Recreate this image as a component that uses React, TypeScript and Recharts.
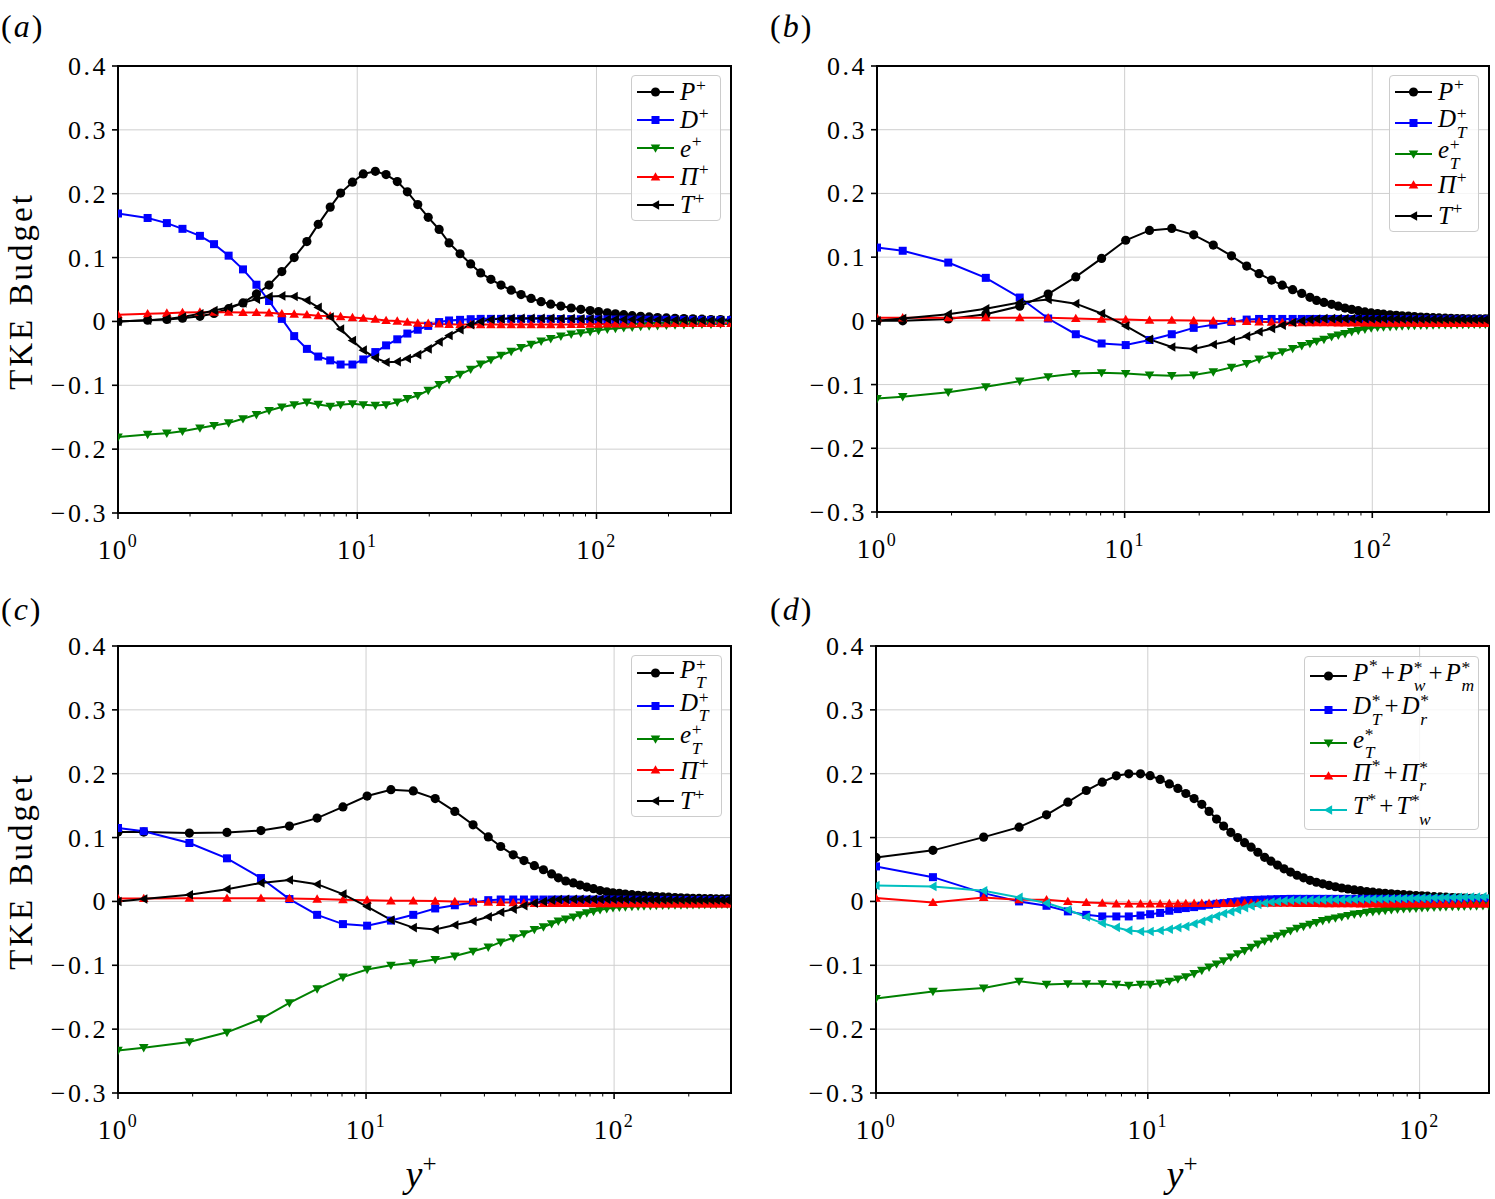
import React from 'react';
import {
  LineChart,
  Line,
  XAxis,
  YAxis,
  CartesianGrid,
  ReferenceArea,
  Legend,
} from 'recharts';

const FONT = '"Liberation Serif", "Times New Roman", serif';

const BLACK = '#000000';
const BLUE = '#0000ff';
const GREEN = '#008000';
const RED = '#ff0000';
const CYAN = '#00bfbf';

// y-axis ticks, shared by every panel
const Y_TICKS = [-0.3, -0.2, -0.1, 0, 0.1, 0.2, 0.3, 0.4];
// log x-axis ticks
const MAJOR_TICKS = [1, 10, 100];
const MINOR_TICKS = [2, 3, 4, 5, 6, 7, 8, 9, 20, 30, 40, 50, 60, 70, 80, 90, 200, 300];

// ---------- panel (a) ----------
const GRID_A = [
  1.0, 1.33, 1.6, 1.86, 2.2, 2.52, 2.9, 3.33, 3.79, 4.28,
  4.84, 5.45, 6.16, 6.87, 7.71, 8.52, 9.55, 10.6, 11.9, 13.2,
  14.7, 16.2, 17.9, 19.8, 22.0, 24.2, 26.9, 29.8, 32.8, 36.2,
  39.9, 44.0, 48.4, 53.3, 58.7, 64.4, 71.0, 78.4, 86.0, 94.1,
  102, 111, 120, 130, 141, 153, 166, 180, 196, 213,
  232, 253, 276, 301, 330, 365,
];
const P_A = [
  0.0, 0.002, 0.003, 0.005, 0.008, 0.0125, 0.02, 0.029, 0.043, 0.057,
  0.078, 0.1, 0.125, 0.152, 0.179, 0.201, 0.218, 0.231, 0.235, 0.23,
  0.219, 0.203, 0.183, 0.163, 0.144, 0.123, 0.106, 0.09, 0.076, 0.066,
  0.057, 0.049, 0.042, 0.036, 0.031, 0.027, 0.024, 0.021, 0.019, 0.017,
  0.0155, 0.0135, 0.012, 0.0105, 0.009, 0.008, 0.007, 0.006, 0.0055, 0.005,
  0.0045, 0.004, 0.0035, 0.003, 0.003, 0.0025,
];
const D_A = [
  0.169, 0.162, 0.154, 0.145, 0.134, 0.121, 0.103, 0.0815, 0.0575, 0.032,
  0.004, -0.023, -0.043, -0.055, -0.061, -0.0675, -0.0675, -0.0595, -0.048, -0.0375,
  -0.028, -0.019, -0.013, -0.007, -0.001, 0.0015, 0.0025, 0.0035, 0.004, 0.004,
  0.004, 0.004, 0.004, 0.004, 0.004, 0.004, 0.0038, 0.0037, 0.0035, 0.0034,
  0.0033, 0.0032, 0.003, 0.003, 0.0029, 0.0028, 0.0027, 0.0026, 0.0025, 0.0024,
  0.0023, 0.0022, 0.0021, 0.002, 0.002, 0.002,
];
const E_A = [
  -0.181, -0.177, -0.175, -0.172, -0.167, -0.163, -0.159, -0.1525, -0.146, -0.1395,
  -0.134, -0.1305, -0.1265, -0.13, -0.133, -0.1305, -0.129, -0.1305, -0.1315, -0.1305,
  -0.1265, -0.121, -0.116, -0.108, -0.099, -0.091, -0.083, -0.075, -0.067, -0.06,
  -0.053, -0.047, -0.041, -0.036, -0.031, -0.027, -0.023, -0.02, -0.018, -0.016,
  -0.014, -0.012, -0.011, -0.01, -0.009, -0.008, -0.007, -0.0065, -0.006, -0.0055,
  -0.005, -0.005, -0.0045, -0.0045, -0.004, -0.004,
];
const PI_A = [
  0.0105, 0.012, 0.013, 0.014, 0.0145, 0.0145, 0.0145, 0.014, 0.014, 0.0135,
  0.012, 0.0115, 0.0105, 0.009, 0.0085, 0.0075, 0.006, 0.005, 0.0035, 0.0015,
  0.0005, -0.001, -0.0025, -0.003, -0.004, -0.0045, -0.005, -0.005, -0.005, -0.005,
  -0.005, -0.005, -0.005, -0.005, -0.005, -0.005, -0.005, -0.0048, -0.0046, -0.0044,
  -0.0042, -0.004, -0.004, -0.0038, -0.0037, -0.0036, -0.0035, -0.0034, -0.0033, -0.0032,
  -0.0032, -0.0031, -0.003, -0.003, -0.003, -0.003,
];
const T_A = [
  0.0, 0.002, 0.004, 0.007, 0.012, 0.017, 0.022, 0.029, 0.035, 0.039,
  0.04, 0.039, 0.033, 0.022, 0.007, -0.012, -0.03, -0.045, -0.057, -0.064,
  -0.063, -0.058, -0.052, -0.043, -0.032, -0.022, -0.013, -0.005, 0.0, 0.003,
  0.004, 0.005, 0.005, 0.005, 0.005, 0.005, 0.0045, 0.0045, 0.004, 0.004,
  0.0035, 0.0035, 0.0033, 0.003, 0.003, 0.0028, 0.0026, 0.0025, 0.0023, 0.0022,
  0.002, 0.002, 0.0018, 0.0017, 0.0016, 0.0015,
];

// ---------- panels (b) and (c) share the same grid ----------
const GRID_B = [
  1.0, 1.27, 1.94, 2.75, 3.77, 4.91, 6.35, 8.07, 10.1, 12.6,
  15.5, 19.0, 22.8, 27.0, 31.1, 34.9, 39.2, 43.3, 47.7, 51.9,
  56.0, 59.6, 63.8, 68.5, 72.9, 77.6, 82.6, 87.8, 93.4, 99.0,
  105, 111, 118, 125, 132, 140, 148, 157, 166, 176,
  186, 197, 208, 220, 232, 245, 258, 272, 286, 296,
];
const P_B = [
  0.0, 0.0, 0.003, 0.0105, 0.023, 0.042, 0.069, 0.098, 0.1265, 0.142,
  0.145, 0.135, 0.119, 0.102, 0.086, 0.074, 0.064, 0.056, 0.049, 0.043,
  0.037, 0.032, 0.029, 0.026, 0.023, 0.02, 0.018, 0.016, 0.014, 0.0125,
  0.0115, 0.0105, 0.0095, 0.0088, 0.008, 0.0073, 0.0067, 0.006, 0.0055, 0.005,
  0.0046, 0.0042, 0.004, 0.0037, 0.0035, 0.0033, 0.0031, 0.003, 0.003, 0.003,
];
const D_B = [
  0.115, 0.11, 0.0915, 0.0675, 0.0366, 0.0037, -0.021, -0.0355, -0.038, -0.03,
  -0.021, -0.011, -0.006, -0.0016, 0.002, 0.003, 0.003, 0.003, 0.003, 0.003,
  0.003, 0.003, 0.003, 0.003, 0.003, 0.003, 0.003, 0.003, 0.003, 0.003,
  0.0028, 0.0028, 0.0027, 0.0027, 0.0026, 0.0025, 0.0025, 0.0024, 0.0024, 0.0023,
  0.0023, 0.0022, 0.0022, 0.0021, 0.0021, 0.002, 0.002, 0.002, 0.002, 0.002,
];
const E_B = [
  -0.122, -0.119, -0.112, -0.1035, -0.0946, -0.0878, -0.0826, -0.0815, -0.0826, -0.085,
  -0.086, -0.085, -0.08, -0.073, -0.067, -0.06, -0.054, -0.0486, -0.0434, -0.039,
  -0.0355, -0.032, -0.029, -0.025, -0.0225, -0.02, -0.017, -0.015, -0.013, -0.011,
  -0.01, -0.0095, -0.009, -0.0085, -0.008, -0.0077, -0.0073, -0.007, -0.0067, -0.0065,
  -0.0062, -0.006, -0.006, -0.0058, -0.0056, -0.0055, -0.0054, -0.0053, -0.0052, -0.005,
];
const PI_B = [
  0.0047, 0.0047, 0.005, 0.005, 0.005, 0.0047, 0.0037, 0.0026, 0.002, 0.001,
  0.001, 0.0005, 0.0, -0.0005, -0.001, -0.0015, -0.002, -0.0025, -0.003, -0.003,
  -0.003, -0.003, -0.003, -0.003, -0.0032, -0.0032, -0.0033, -0.0033, -0.0034, -0.0034,
  -0.0035, -0.0035, -0.0035, -0.0036, -0.0036, -0.0037, -0.0037, -0.0038, -0.0038, -0.0038,
  -0.0039, -0.0039, -0.004, -0.004, -0.004, -0.004, -0.004, -0.004, -0.004, -0.004,
];
const T_B = [
  0.0, 0.0037, 0.0105, 0.019, 0.029, 0.0335, 0.027, 0.0115, -0.008, -0.029,
  -0.041, -0.044, -0.037, -0.031, -0.024, -0.017, -0.012, -0.0068, -0.0026, 0.0,
  0.002, 0.003, 0.0035, 0.0035, 0.0035, 0.0035, 0.0035, 0.0035, 0.0035, 0.0035,
  0.0034, 0.0033, 0.0032, 0.0031, 0.003, 0.003, 0.0029, 0.0028, 0.0028, 0.0027,
  0.0026, 0.0025, 0.0025, 0.0024, 0.0023, 0.0022, 0.0022, 0.0021, 0.002, 0.002,
];
const P_C = [
  0.1086, 0.1086, 0.107, 0.108, 0.111, 0.118, 0.1305, 0.148, 0.165, 0.175,
  0.173, 0.161, 0.141, 0.12, 0.101, 0.086, 0.073, 0.064, 0.056, 0.0496,
  0.043, 0.037, 0.032, 0.029, 0.0256, 0.0225, 0.02, 0.017, 0.015, 0.0136,
  0.0125, 0.0115, 0.0105, 0.0097, 0.009, 0.0083, 0.0077, 0.0071, 0.0066, 0.0061,
  0.0057, 0.0053, 0.005, 0.0047, 0.0045, 0.0043, 0.0041, 0.004, 0.004, 0.004,
];
const E_C = [
  -0.2334, -0.229, -0.22, -0.205, -0.184, -0.159, -0.137, -0.1185, -0.1065, -0.1,
  -0.096, -0.091, -0.0856, -0.078, -0.0715, -0.0637, -0.057, -0.0506, -0.044, -0.04,
  -0.035, -0.031, -0.0277, -0.0245, -0.021, -0.018, -0.0157, -0.013, -0.0115, -0.01,
  -0.0092, -0.0085, -0.008, -0.0075, -0.007, -0.0066, -0.0063, -0.006, -0.0058, -0.0056,
  -0.0054, -0.0052, -0.005, -0.005, -0.0048, -0.0047, -0.0046, -0.0045, -0.0045, -0.0045,
];

// ---------- panel (d) ----------
const GRID_D = [
  1.0, 1.62, 2.49, 3.36, 4.24, 5.08, 5.94, 6.8, 7.66, 8.51,
  9.4, 10.2, 11.1, 12.0, 12.9, 13.8, 14.8, 15.8, 16.8, 17.9,
  19.0, 20.2, 21.4, 22.7, 24.0, 25.4, 26.9, 28.4, 30.0, 31.7,
  33.5, 35.4, 37.4, 39.5, 41.7, 44.0, 46.4, 49.0, 51.7, 54.5,
  57.5, 60.6, 63.9, 67.3, 70.9, 74.7, 78.7, 82.9, 87.3, 92.0,
  97.0, 102, 107, 113, 119, 125, 132, 139, 146, 154,
  162, 171, 180,
];
const P_D = [
  0.0689, 0.08, 0.1007, 0.1163, 0.1356, 0.1555, 0.1737, 0.1867, 0.1967, 0.1998,
  0.1998, 0.197, 0.191, 0.184, 0.177, 0.169, 0.161, 0.152, 0.141, 0.129,
  0.118, 0.108, 0.1, 0.092, 0.085, 0.077, 0.069, 0.063, 0.057, 0.051,
  0.046, 0.041, 0.037, 0.033, 0.03, 0.0276, 0.025, 0.023, 0.021, 0.0195,
  0.018, 0.0168, 0.0155, 0.0145, 0.0136, 0.0127, 0.012, 0.0112, 0.0105, 0.0099,
  0.0093, 0.0087, 0.0082, 0.0075, 0.007, 0.0066, 0.0061, 0.0057, 0.0053, 0.0049,
  0.0045, 0.0041, 0.0037,
];
const D_D = [
  0.0548, 0.038, 0.013, 0.0, -0.0068, -0.0156, -0.021, -0.0235, -0.0235, -0.0235,
  -0.022, -0.02, -0.018, -0.0146, -0.012, -0.0104, -0.0089, -0.0068, -0.0052, -0.0037,
  -0.0026, -0.001, 0.0, 0.0016, 0.0022, 0.0026, 0.003, 0.0033, 0.0036, 0.0038,
  0.004, 0.004, 0.004, 0.004, 0.004, 0.004, 0.004, 0.004, 0.004, 0.004,
  0.004, 0.004, 0.004, 0.004, 0.004, 0.004, 0.004, 0.004, 0.004, 0.004,
  0.004, 0.004, 0.004, 0.004, 0.004, 0.004, 0.004, 0.004, 0.004, 0.004,
  0.004, 0.004, 0.004,
];
const E_D = [
  -0.152, -0.141, -0.1356, -0.125, -0.13, -0.129, -0.129, -0.129, -0.13, -0.1315,
  -0.13, -0.13, -0.128, -0.125, -0.1215, -0.118, -0.113, -0.108, -0.103, -0.098,
  -0.093, -0.087, -0.082, -0.077, -0.072, -0.067, -0.062, -0.058, -0.054, -0.05,
  -0.046, -0.042, -0.039, -0.036, -0.033, -0.03, -0.028, -0.026, -0.024, -0.022,
  -0.02, -0.019, -0.017, -0.016, -0.015, -0.014, -0.013, -0.012, -0.0115, -0.011,
  -0.0105, -0.01, -0.0095, -0.009, -0.0087, -0.0083, -0.008, -0.0077, -0.0074, -0.0071,
  -0.0069, -0.0067, -0.0065,
];
const PI_D = [
  0.0052, -0.0016, 0.0063, 0.0026, 0.0026, 0.0, -0.0016, -0.0026, -0.0037, -0.0037,
  -0.0037, -0.0037, -0.0037, -0.0035, -0.0033, -0.0032, -0.003, -0.003, -0.003, -0.003,
  -0.003, -0.003, -0.0028, -0.0026, -0.0025, -0.0025, -0.0025, -0.0025, -0.0026, -0.0027,
  -0.0028, -0.003, -0.003, -0.0031, -0.0032, -0.0033, -0.0034, -0.0035, -0.0035, -0.0036,
  -0.0036, -0.0037, -0.0037, -0.0038, -0.0038, -0.0038, -0.0039, -0.0039, -0.004, -0.004,
  -0.004, -0.004, -0.004, -0.004, -0.004, -0.004, -0.004, -0.004, -0.004, -0.004,
  -0.004, -0.004, -0.004,
];
const T_D = [
  0.025, 0.0235, 0.0167, 0.0063, -0.0026, -0.013, -0.0245, -0.034, -0.0407, -0.0454,
  -0.047, -0.047, -0.0455, -0.0435, -0.041, -0.039, -0.035, -0.031, -0.027, -0.023,
  -0.019, -0.016, -0.013, -0.01, -0.007, -0.0048, -0.0025, -0.001, 0.0, 0.001,
  0.0015, 0.0018, 0.002, 0.002, 0.0022, 0.0024, 0.0025, 0.0026, 0.0028, 0.003,
  0.0031, 0.0033, 0.0035, 0.0037, 0.0039, 0.004, 0.0042, 0.0044, 0.0046, 0.0048,
  0.005, 0.0052, 0.0054, 0.0056, 0.0058, 0.006, 0.0062, 0.0064, 0.0066, 0.0068,
  0.007, 0.0071, 0.0072,
];

type Shape = 'circle' | 'square' | 'down' | 'up' | 'left';

function Marker({ shape, cx, cy, color }: { shape: Shape; cx: number; cy: number; color: string }) {
  switch (shape) {
    case 'circle':
      return <circle cx={cx} cy={cy} r={4.6} fill={color} />;
    case 'square':
      return <rect x={cx - 4} y={cy - 4} width={8} height={8} fill={color} />;
    case 'down':
      return <polygon points={`${cx - 4.8},${cy - 3.6} ${cx + 4.8},${cy - 3.6} ${cx},${cy + 4.8}`} fill={color} />;
    case 'up':
      return <polygon points={`${cx - 4.8},${cy + 3.6} ${cx + 4.8},${cy + 3.6} ${cx},${cy - 4.8}`} fill={color} />;
    default:
      return <polygon points={`${cx + 3.6},${cy - 4.8} ${cx + 3.6},${cy + 4.8} ${cx - 4.8},${cy}`} fill={color} />;
  }
}

const dotRenderer = (shape: Shape, color: string) => (props: any) => {
  const { cx, cy, index } = props;
  if (cx == null || cy == null) return <g key={`none-${index}`} />;
  return (
    <g key={`${shape}-${index}`}>
      <Marker shape={shape} cx={cx} cy={cy} color={color} />
    </g>
  );
};

// small text helpers for the math labels
const It = ({ children }: { children: React.ReactNode }) => (
  <span style={{ fontStyle: 'italic' }}>{children}</span>
);
const Sup = ({ children }: { children: React.ReactNode }) => (
  <span style={{ fontSize: '0.7em', position: 'relative', top: '-0.55em', marginLeft: '0.04em' }}>{children}</span>
);
const Stack = ({ sup, sub, shift = 0 }: { sup: string; sub: string; shift?: number }) => (
  <span
    style={{
      display: 'inline-flex',
      flexDirection: 'column',
      fontSize: '0.7em',
      lineHeight: 1.05,
      verticalAlign: '0.45em',
      marginLeft: '0.04em',
    }}
  >
    <span>{sup}</span>
    <span style={{ fontStyle: 'italic', marginLeft: `${shift}em` }}>{sub}</span>
  </span>
);
const Op = () => <span style={{ margin: '0 0.12em' }}>+</span>;

interface SeriesDef {
  key: string;
  color: string;
  shape: Shape;
  values: number[];
  label: React.ReactNode;
}

interface PanelDef {
  grid: number[];
  xMax: number;
  plot: { left: number; top: number; width: number; height: number };
  legend: { left: number; top: number; width: number; rows: number[]; padTop: number };
  series: SeriesDef[];
}

const Y_W = 70;
const X_H = 64;
const M_TOP = 20;
const M_RIGHT = 10;

function XTick({ x, y, payload }: any) {
  const v = payload.value;
  const major = MAJOR_TICKS.includes(v);
  return (
    <g>
      <line x1={x} x2={x} y1={y} y2={y + (major ? 6 : 3.5)} stroke={BLACK} strokeWidth={major ? 1.6 : 1} />
      {major && (
        <text x={x} y={y + 46} textAnchor="middle" fontFamily={FONT} fontSize={27} fill={BLACK} letterSpacing={1.5}>
          10
          <tspan dy={-12} fontSize={18}>
            {Math.round(Math.log10(v))}
          </tspan>
        </text>
      )}
    </g>
  );
}

function YTick({ x, y, payload }: any) {
  const v = payload.value;
  const label = v === 0 ? '0' : (v < 0 ? '\u2212' : '') + Math.abs(v).toFixed(1);
  return (
    <g>
      <line x1={x - 6} x2={x} y1={y} y2={y} stroke={BLACK} strokeWidth={1.6} />
      <text x={x - 10} y={y} dy={9} textAnchor="end" fontFamily={FONT} fontSize={26} fill={BLACK} letterSpacing={2.5}>
        {label}
      </text>
    </g>
  );
}

function LegendBox({ series, width, rows, padTop }: { series: SeriesDef[]; width: number; rows: number[]; padTop: number }) {
  return (
    <div
      style={{
        background: 'rgba(255,255,255,0.8)',
        border: '1px solid #cccccc',
        borderRadius: 4,
        width,
        boxSizing: 'border-box',
        paddingTop: padTop,
        paddingBottom: padTop,
        fontFamily: FONT,
        fontSize: 25,
        color: BLACK,
      }}
    >
      {series.map((s, i) => (
        <div key={s.key} style={{ display: 'flex', alignItems: 'center', height: rows[i] }}>
          <svg width={37} height={14} style={{ marginLeft: 5, flex: 'none', overflow: 'visible' }}>
            <line x1={0} x2={37} y1={7} y2={7} stroke={s.color} strokeWidth={2} />
            <Marker shape={s.shape} cx={18.5} cy={7} color={s.color} />
          </svg>
          <span style={{ marginLeft: 6, whiteSpace: 'nowrap', lineHeight: 1 }}>{s.label}</span>
        </div>
      ))}
    </div>
  );
}

function BudgetPanel({ panel }: { panel: PanelDef }) {
  const { grid, xMax, plot, legend, series } = panel;
  const chartLeft = plot.left - Y_W;
  const chartTop = plot.top - M_TOP;
  const rows = grid.map((y, i) => {
    const row: Record<string, number> = { y };
    series.forEach((s) => {
      row[s.key] = s.values[i];
    });
    return row;
  });
  const xTicks = [...MAJOR_TICKS, ...MINOR_TICKS].filter((t) => t <= xMax).sort((a, b) => a - b);

  return (
    <div style={{ position: 'absolute', left: chartLeft, top: chartTop }}>
      <LineChart
        width={Y_W + plot.width + M_RIGHT}
        height={M_TOP + plot.height + X_H}
        data={rows}
        margin={{ top: M_TOP, right: M_RIGHT, bottom: 0, left: 0 }}
      >
        <CartesianGrid
          stroke="#cfcfcf"
          strokeWidth={1}
          horizontalValues={Y_TICKS}
          verticalValues={MAJOR_TICKS.filter((t) => t > 1 && t < xMax)}
        />
        <XAxis
          dataKey="y"
          type="number"
          scale="log"
          domain={[1, xMax]}
          allowDataOverflow
          ticks={xTicks}
          interval={0}
          tickLine={false}
          tickSize={0}
          tickMargin={0}
          height={X_H}
          axisLine={{ stroke: BLACK, strokeWidth: 2 }}
          tick={(p: any) => <XTick {...p} />}
        />
        <YAxis
          type="number"
          domain={[-0.3, 0.4]}
          allowDataOverflow
          ticks={Y_TICKS}
          interval={0}
          width={Y_W}
          tickLine={false}
          tickSize={0}
          tickMargin={0}
          axisLine={{ stroke: BLACK, strokeWidth: 2 }}
          tick={(p: any) => <YTick {...p} />}
        />
        {series.map((s) => (
          <Line
            key={s.key}
            type="linear"
            dataKey={s.key}
            stroke={s.color}
            strokeWidth={2}
            dot={dotRenderer(s.shape, s.color)}
            activeDot={false}
            isAnimationActive={false}
          />
        ))}
        <ReferenceArea x1={1} x2={xMax} y1={-0.3} y2={0.4} fill="none" stroke={BLACK} strokeWidth={2} />
        <Legend
          layout="vertical"
          align="center"
          verticalAlign="middle"
          wrapperStyle={{ left: legend.left - chartLeft, top: legend.top - chartTop, width: legend.width, height: 'auto' }}
          content={() => <LegendBox series={series} width={legend.width} rows={legend.rows} padTop={legend.padTop} />}
        />
      </LineChart>
    </div>
  );
}

const PANELS: PanelDef[] = [
  {
    grid: GRID_A,
    xMax: 365,
    plot: { left: 118, top: 66, width: 613, height: 447 },
    legend: { left: 631, top: 75, width: 90, rows: [28.3, 28.3, 28.3, 28.3, 28.3], padTop: 1.5 },
    series: [
      { key: 'P', color: BLACK, shape: 'circle', values: P_A, label: <><It>P</It><Sup>+</Sup></> },
      { key: 'D', color: BLUE, shape: 'square', values: D_A, label: <><It>D</It><Sup>+</Sup></> },
      { key: 'e', color: GREEN, shape: 'down', values: E_A, label: <><It>e</It><Sup>+</Sup></> },
      { key: 'Pi', color: RED, shape: 'up', values: PI_A, label: <><It>Π</It><Sup>+</Sup></> },
      { key: 'T', color: BLACK, shape: 'left', values: T_A, label: <><It>T</It><Sup>+</Sup></> },
    ],
  },
  {
    grid: GRID_B,
    xMax: 296,
    plot: { left: 877, top: 66, width: 612, height: 446 },
    legend: { left: 1389, top: 75, width: 90, rows: [31, 31, 31, 31, 31], padTop: 0 },
    series: [
      { key: 'P', color: BLACK, shape: 'circle', values: P_B, label: <><It>P</It><Sup>+</Sup></> },
      { key: 'D', color: BLUE, shape: 'square', values: D_B, label: <><It>D</It><Stack sup="+" sub="T" /></> },
      { key: 'e', color: GREEN, shape: 'down', values: E_B, label: <><It>e</It><Stack sup="+" sub="T" /></> },
      { key: 'Pi', color: RED, shape: 'up', values: PI_B, label: <><It>Π</It><Sup>+</Sup></> },
      { key: 'T', color: BLACK, shape: 'left', values: T_B, label: <><It>T</It><Sup>+</Sup></> },
    ],
  },
  {
    grid: GRID_B,
    xMax: 296,
    plot: { left: 118, top: 646, width: 613, height: 447 },
    legend: { left: 631, top: 655, width: 91, rows: [34, 32.5, 32.5, 30.5, 30.5], padTop: 0 },
    series: [
      { key: 'P', color: BLACK, shape: 'circle', values: P_C, label: <><It>P</It><Stack sup="+" sub="T" /></> },
      { key: 'D', color: BLUE, shape: 'square', values: D_B, label: <><It>D</It><Stack sup="+" sub="T" /></> },
      { key: 'e', color: GREEN, shape: 'down', values: E_C, label: <><It>e</It><Stack sup="+" sub="T" /></> },
      { key: 'Pi', color: RED, shape: 'up', values: PI_B, label: <><It>Π</It><Sup>+</Sup></> },
      { key: 'T', color: BLACK, shape: 'left', values: T_B, label: <><It>T</It><Sup>+</Sup></> },
    ],
  },
  {
    grid: GRID_D,
    xMax: 180,
    plot: { left: 876, top: 646, width: 613, height: 447 },
    legend: { left: 1304, top: 656, width: 175, rows: [33.4, 33.4, 33.4, 33.4, 33.4], padTop: 2.5 },
    series: [
      {
        key: 'P', color: BLACK, shape: 'circle', values: P_D,
        label: <><It>P</It><Sup>*</Sup><Op /><It>P</It><Stack sup="*" sub="w" /><Op /><It>P</It><Stack sup="*" sub="m" /></>,
      },
      {
        key: 'D', color: BLUE, shape: 'square', values: D_D,
        label: <><It>D</It><Stack sup="*" sub="T" /><Op /><It>D</It><Stack sup="*" sub="r" /></>,
      },
      { key: 'e', color: GREEN, shape: 'down', values: E_D, label: <><It>e</It><Stack sup="*" sub="T" /></> },
      {
        key: 'Pi', color: RED, shape: 'up', values: PI_D,
        label: <><It>Π</It><Sup>*</Sup><Op /><It>Π</It><Stack sup="*" sub="r" /></>,
      },
      {
        key: 'T', color: CYAN, shape: 'left', values: T_D,
        label: <><It>T</It><Sup>*</Sup><Op /><It>T</It><Stack sup="*" sub="w" shift={0.45} /></>,
      },
    ],
  },
];

const PanelLabel = ({ letter, left, top }: { letter: string; left: number; top: number }) => (
  <div style={{ position: 'absolute', left, top, fontFamily: FONT, fontSize: 32, lineHeight: '34px', letterSpacing: 2 }}>
    (<It>{letter}</It>)
  </div>
);

const BudgetLabel = ({ cy }: { cy: number }) => (
  <div
    style={{
      position: 'absolute',
      left: 21,
      top: cy,
      transform: 'translate(-50%, -50%) rotate(-90deg)',
      fontFamily: FONT,
      fontSize: 33,
      letterSpacing: 3,
      whiteSpace: 'nowrap',
      lineHeight: '36px',
    }}
  >
    TKE Budget
  </div>
);

const YPlusLabel = ({ cx }: { cx: number }) => (
  <div
    style={{
      position: 'absolute',
      left: cx,
      top: 1154,
      transform: 'translateX(-50%)',
      fontFamily: FONT,
      fontSize: 38,
      lineHeight: '40px',
      whiteSpace: 'nowrap',
    }}
  >
    <It>y</It>
    <span style={{ fontSize: 25, position: 'relative', top: -15 }}>+</span>
  </div>
);

export default function App() {
  return (
    <div
      style={{
        position: 'absolute',
        left: 0,
        top: 0,
        width: 1495,
        height: 1199,
        background: '#ffffff',
        color: BLACK,
        fontFamily: FONT,
        overflow: 'hidden',
      }}
    >
      {PANELS.map((p, i) => (
        <BudgetPanel key={i} panel={p} />
      ))}
      <PanelLabel letter="a" left={1} top={9} />
      <PanelLabel letter="b" left={770} top={9} />
      <PanelLabel letter="c" left={1} top={592} />
      <PanelLabel letter="d" left={770} top={592} />
      <BudgetLabel cy={291} />
      <BudgetLabel cy={871} />
      <YPlusLabel cx={421} />
      <YPlusLabel cx={1182} />
    </div>
  );
}
